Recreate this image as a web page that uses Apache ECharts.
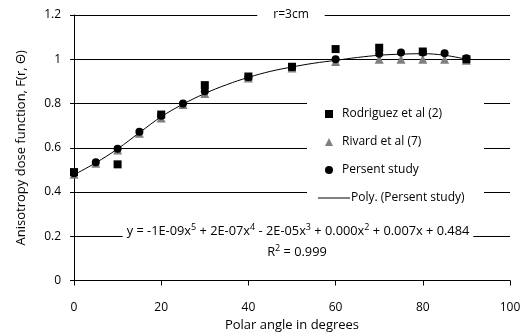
<!DOCTYPE html>
<html>
<head>
<meta charset="utf-8">
<script src="https://cdn.jsdelivr.net/npm/echarts@6/dist/echarts.min.js"></script>
<style>html,body{margin:0;padding:0;background:#fff}#c{width:522px;height:335px}</style>
</head>
<body>
<div id="c"></div>
<script>
var FONT = "'Open Sans', 'DejaVu Sans', sans-serif";
var xTicks = [0, 20, 40, 60, 80, 100];
var rodriguezX = [0, 10, 20, 30, 40, 50, 60, 70, 80, 90];
var rodriguezY = [0.49, 0.525, 0.75, 0.883, 0.922, 0.966, 1.046, 1.052, 1.035, 1.0];
var rivardX = [0, 5, 10, 15, 20, 25, 30, 40, 50, 60, 70, 75, 80, 85, 90];
var rivardY = [0.48, 0.53, 0.59, 0.665, 0.735, 0.795, 0.845, 0.915, 0.96, 0.99, 1.0, 1.0, 1.0, 1.0, 0.995];
var studyX = [0, 5, 10, 15, 20, 25, 30, 40, 50, 60, 70, 75, 80, 85, 90];
var studyY = [0.485, 0.535, 0.595, 0.672, 0.745, 0.80, 0.855, 0.92, 0.965, 1.0, 1.025, 1.03, 1.03, 1.027, 1.004];
var polyX = [0, 5, 10, 15, 20, 25, 30, 35, 40, 45, 50, 55, 60, 65, 70, 75, 80, 85, 90];
var polyY = [0.478, 0.532, 0.595, 0.668, 0.74, 0.797, 0.845, 0.885, 0.918, 0.945, 0.965, 0.982, 0.995, 1.008, 1.018, 1.023, 1.025, 1.018, 1.0];
var names = ['Rodriguez et al (2)', 'Rivard et al (7)', 'Persent study', 'Poly. (Persent study)'];
var titleText = 'r=3cm';
var eqText = 'y = -1E-09x{s|5} + 2E-07x{s|4} - 2E-05x{s|3} + 0.000x{s|2} + 0.007x + 0.484';
var r2Text = 'R{s|2} = 0.999';

function pairs(xs, ys) { return xs.map(function (x, i) { return [x, ys[i]]; }); }

var legendText = { fontFamily: FONT, fontSize: 12, color: '#000', lineHeight: 14 };
var richSup = {
  s: { fontFamily: FONT, fontSize: 9, verticalAlign: 'top', lineHeight: 10, fill: '#000' }
};

var chart = echarts.init(document.getElementById('c'));
chart.setOption({
  animation: false,
  backgroundColor: '#fff',
  textStyle: { fontFamily: FONT, color: '#000' },
  grid: { left: 74, right: 12, top: 15, bottom: 54.5, containLabel: false, outerBoundsMode: 'none' },
  xAxis: {
    type: 'value', min: 0, max: 100, interval: 20,
    name: 'Polar angle in degrees', nameLocation: 'middle', nameGap: 38,
    nameTextStyle: { fontFamily: FONT, fontSize: 13, color: '#000' },
    axisLine: { show: true, lineStyle: { color: '#000', width: 1 } },
    axisTick: { show: true, inside: false, length: 5, lineStyle: { color: '#000' } },
    axisLabel: { margin: 21, fontFamily: FONT, fontSize: 12, color: '#000' },
    splitLine: { show: false }
  },
  yAxis: {
    type: 'value', min: 0, max: 1.2, interval: 0.2,
    name: 'Anisotropy dose function, F(r, Θ)', nameLocation: 'middle', nameGap: 46,
    nameTextStyle: { fontFamily: FONT, fontSize: 13, color: '#000' },
    axisLine: { show: true, lineStyle: { color: '#000', width: 1 } },
    axisTick: { show: true, inside: false, length: 4, lineStyle: { color: '#000' } },
    axisLabel: { margin: 13, fontFamily: FONT, fontSize: 12, color: '#000' },
    splitLine: { show: true, lineStyle: { color: '#000', width: 1 } }
  },
  legend: [
    {
      orient: 'vertical', left: 325, top: 107, padding: 0,
      itemWidth: 8, itemHeight: 8, itemGap: 14,
      textStyle: Object.assign({ padding: [0, 0, 0, 4] }, legendText),
      data: [
        { name: names[0], icon: 'rect', itemStyle: { color: '#000', opacity: 1 } },
        { name: names[1], icon: 'triangle', itemStyle: { color: '#7f7f7f', opacity: 1 } },
        { name: names[2], icon: 'circle', itemStyle: { color: '#000', opacity: 1 } }
      ]
    },
    {
      orient: 'vertical', left: 318, top: 191, padding: 0,
      itemWidth: 32, itemHeight: 1,
      textStyle: Object.assign({ padding: [0, 0, 0, -4] }, legendText),
      data: [{ name: names[3], icon: 'rect', itemStyle: { color: '#000', opacity: 1 } }]
    }
  ],
  graphic: [
    {
      type: 'rect', z: 1, silent: true,
      shape: { x: 307, y: 99, width: 177, height: 103 },
      style: { fill: '#fff' }
    },
    {
      type: 'text', z: 100, x: 291, y: 15,
      style: {
        text: titleText, fill: '#000', font: '12px ' + FONT,
        align: 'center', verticalAlign: 'middle',
        backgroundColor: '#fff', padding: [3, 16]
      }
    },
    {
      type: 'text', z: 100, x: 298, y: 231,
      style: {
        text: eqText, fill: '#000', font: '12.8px ' + FONT, lineHeight: 16,
        align: 'center', verticalAlign: 'middle', rich: richSup,
        backgroundColor: '#fff', padding: [2, 4]
      }
    },
    {
      type: 'text', z: 100, x: 297, y: 252,
      style: {
        text: r2Text, fill: '#000', font: '12.8px ' + FONT, lineHeight: 16,
        align: 'center', verticalAlign: 'middle', rich: richSup
      }
    }
  ],
  series: [
    {
      name: names[1], type: 'scatter', z: 2,
      symbol: 'triangle', symbolSize: 9,
      itemStyle: { color: '#7f7f7f', opacity: 1 },
      data: pairs(rivardX, rivardY)
    },
    {
      name: names[0], type: 'scatter', z: 3,
      symbol: 'rect', symbolSize: 8,
      itemStyle: { color: '#000', opacity: 1 },
      data: pairs(rodriguezX, rodriguezY)
    },
    {
      name: names[2], type: 'scatter', z: 4,
      symbol: 'circle', symbolSize: 8,
      itemStyle: { color: '#000', opacity: 1 },
      data: pairs(studyX, studyY)
    },
    {
      name: names[3], type: 'line', z: 5,
      smooth: 0.4, symbol: 'none', showSymbol: false,
      lineStyle: { color: '#000', width: 1 },
      itemStyle: { color: '#000' },
      data: pairs(polyX, polyY)
    }
  ]
});
</script>
</body>
</html>
